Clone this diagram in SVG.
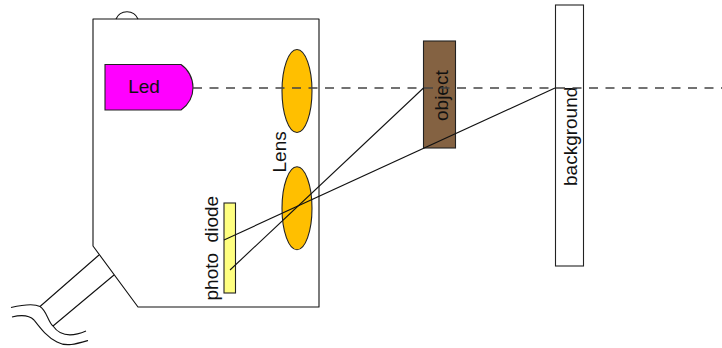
<svg xmlns="http://www.w3.org/2000/svg" width="722" height="348" viewBox="0 0 722 348">
<style>
.s{stroke:#111;stroke-width:1.1;fill:none}
.f{stroke:#222;stroke-width:1.1}
text{font-family:"Liberation Sans",Arial,sans-serif;font-size:19px;fill:#111;white-space:pre}
</style>
<rect width="722" height="348" fill="#fff"/>
<g id="housing">
<path class="s" d="M116 19A12 12 0 0 1 138 19"/>
<path class="s" stroke-linejoin="round" d="M93 19H319V307H138L93 246Z"/>
</g>
<g id="cable">
<path class="s" d="M99 255L40 306.500M114 275L53 326"/>
<path class="s" d="M11 307.500C22 305 33 303 40 306.500C47 311 48 322 53 326C60 336 72 337 86 331"/>
<path class="s" d="M12 317C20 315 28 314 34 320C41 329 47 337 57 342C66 347 76 344 88 340.500"/>
</g>
<g id="led">
<path fill="#f0f" class="f" d="M105 64.500H181C188 69 193 78 193 87.500C193 97 188 105 181 110H105Z"/>
<text x="144" y="93" text-anchor="middle">Led</text>
</g>
<g id="lens-top"><ellipse cx="297" cy="91" rx="15" ry="41.500" fill="#ffbf00" class="f"/></g>
<g id="lens-bottom"><ellipse cx="297" cy="208.300" rx="15" ry="41.500" fill="#ffbf00" class="f"/>
<text transform="translate(286 172.500) rotate(-90)">Lens</text></g>
<g id="photodiode"><rect x="224" y="203" width="11.500" height="90" fill="#ffff80" class="f"/>
<text transform="translate(218 300.500) rotate(-90)">photo  diode</text></g>
<g id="object"><rect x="423.500" y="41" width="32" height="107" fill="#846242" class="f"/>
<text transform="translate(448 121) rotate(-90)">object</text></g>
<g id="background"><rect x="555.500" y="5" width="28" height="261" fill="#fff" class="f"/>
<text transform="translate(577 186) rotate(-90)">background</text></g>
<g id="connectors">
<path d="M193 88H722" stroke="#444" stroke-width="1.300" stroke-dasharray="9 7.500" fill="none"/>
<path class="s" d="M224 240L555 88"/>
<path class="s" d="M230 270L423.500 88"/>
</g>
</svg>
